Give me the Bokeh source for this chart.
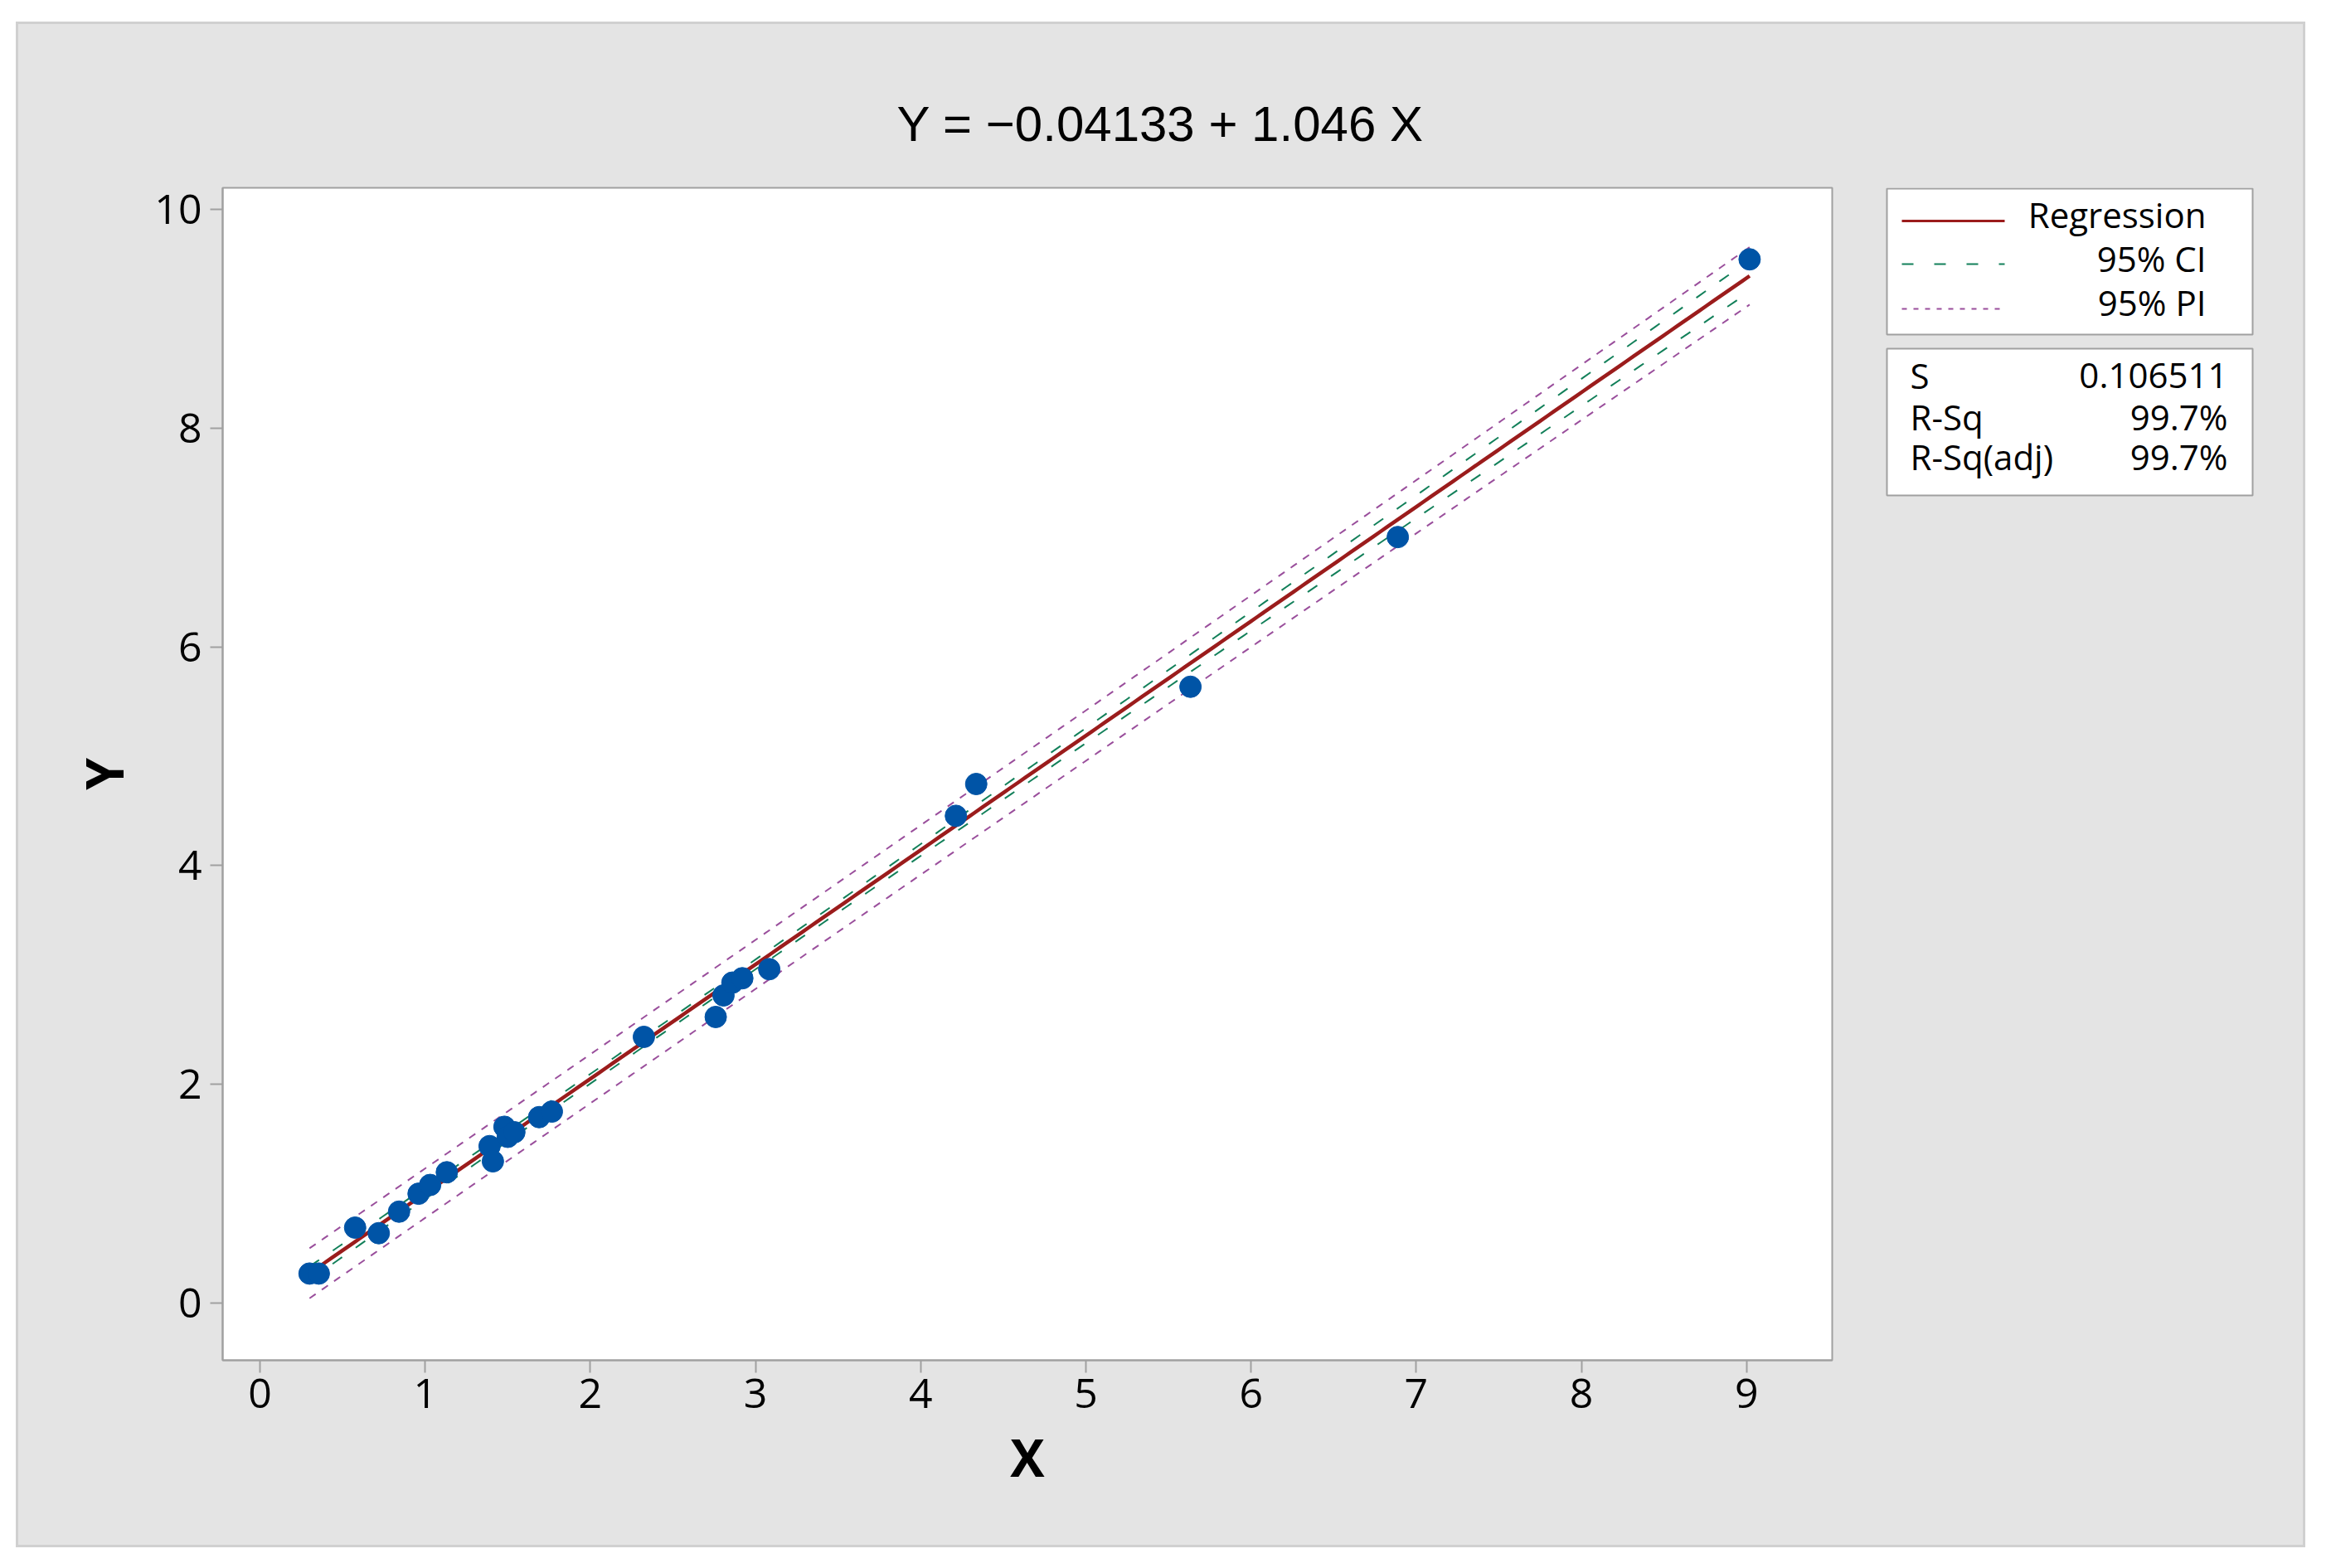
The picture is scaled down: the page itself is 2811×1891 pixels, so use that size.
import numpy as np
from bokeh.plotting import figure
from bokeh.models import Range1d, FixedTicker, Spacer
from bokeh.layouts import row, column
from bokeh.embed import file_html
from bokeh.resources import INLINE
from bokeh.core.properties import value

# ---------------- data ----------------
x_vals = [0.30, 0.356, 0.576, 0.719, 0.842, 0.96, 1.03, 1.131, 1.39, 1.41, 1.48, 1.50,
          1.54, 1.69, 1.767, 2.324, 2.759, 2.806, 2.86, 2.92, 3.083, 4.213, 4.336,
          5.633, 6.888, 9.018]
y_vals = [0.27, 0.27, 0.69, 0.639, 0.836, 1.00, 1.08, 1.196, 1.435, 1.296, 1.612, 1.52,
          1.562, 1.70, 1.751, 2.434, 2.616, 2.813, 2.93, 2.97, 3.053, 4.455, 4.746,
          5.635, 7.004, 9.543]
x_ticks = [0, 1, 2, 3, 4, 5, 6, 7, 8, 9]
y_ticks = [0, 2, 4, 6, 8, 10]
intercept = -0.04133
slope = 1.046
s_value = 0.106511
t_crit = 2.064
title_text = "Y = \u22120.04133 + 1.046 X"
legend_labels = ["Regression", "95% CI", "95% PI"]
stat_names = ["S", "R-Sq", "R-Sq(adj)"]
stat_values = ["0.106511", "99.7%", "99.7%"]

# ---------------- derived fit bands ----------------
xa = np.array(x_vals)
n = len(xa)
xbar = xa.mean()
sxx = ((xa - xbar) ** 2).sum()
xg = np.linspace(xa.min(), xa.max(), 200)
fit = intercept + slope * xg
ci_hw = t_crit * s_value * np.sqrt(1.0 / n + (xg - xbar) ** 2 / sxx)
pi_hw = t_crit * s_value * np.sqrt(1.0 + 1.0 / n + (xg - xbar) ** 2 / sxx)

PANEL = "#e4e4e4"
FRAME_LINE = "#a0a0a0"
RED = "#9b1c1c"
GREEN = "#13805a"
PURPLE = "#9a4f9c"
BLUE = "#0054a6"

FW, FH = 1941, 1414
MB_TOP, MB_BOTTOM = 197, 223

p = figure(frame_width=FW, frame_height=FH,
           x_range=Range1d(-0.226, 9.518), y_range=Range1d(-0.523, 10.197),
           output_backend="svg", toolbar_location=None,
           min_border_left=246, min_border_right=31,
           min_border_top=MB_TOP, min_border_bottom=MB_BOTTOM,
           background_fill_color="white", border_fill_color=PANEL)
p.outline_line_color = FRAME_LINE
p.outline_line_width = 2
p.grid.visible = False

p.title.text = title_text
p.title.align = "left"
p.title.text_font = "Liberation Sans"
p.title.text_font_size = "60px"
p.title.text_font_style = "normal"
p.title.text_color = "black"
p.title.offset = 813
p.title.standoff = 87

for ax in (p.xaxis[0], p.yaxis[0]):
    ax.axis_line_color = FRAME_LINE
    ax.axis_line_width = 2
    ax.major_tick_line_color = FRAME_LINE
    ax.major_tick_line_width = 2
    ax.major_tick_out = 15
    ax.major_tick_in = 0
    ax.minor_tick_line_color = None
    ax.major_label_text_font = "Open Sans"
    ax.major_label_text_font_size = "50px"
    ax.major_label_text_color = "black"
    ax.axis_label_text_font = "Open Sans"
    ax.axis_label_text_font_size = "62px"
    ax.axis_label_text_font_style = "bold"
    ax.axis_label_text_color = "black"

p.xaxis.ticker = FixedTicker(ticks=x_ticks)
p.yaxis.ticker = FixedTicker(ticks=y_ticks)
p.xaxis.axis_label = "X"
p.yaxis.axis_label = "Y"
p.xaxis.major_label_standoff = 7
p.yaxis.major_label_standoff = 10
p.xaxis.axis_label_standoff = 14
p.yaxis.axis_label_standoff = 16

p.line(xg, fit - pi_hw, line_color=PURPLE, line_width=2, line_dash="9 9")
p.line(xg, fit + pi_hw, line_color=PURPLE, line_width=2, line_dash="9 9")
p.line(xg, fit - ci_hw, line_color=GREEN, line_width=2, line_dash="14 20")
p.line(xg, fit + ci_hw, line_color=GREEN, line_width=2, line_dash="14 20")
p.line(xg, fit, line_color=RED, line_width=4.5)
p.scatter(x_vals, y_vals, size=26, fill_color=BLUE, line_color=BLUE)

# ---------------- legend panel (pixel coords from its frame top-left, y downward) ----------------
LW = 537
lf = figure(frame_width=LW, frame_height=FH,
            x_range=Range1d(0, LW), y_range=Range1d(FH, 0),
            output_backend="svg", toolbar_location=None,
            x_axis_location=None, y_axis_location=None,
            min_border_left=0, min_border_right=0,
            min_border_top=MB_TOP, min_border_bottom=MB_BOTTOM,
            background_fill_color=PANEL, border_fill_color=PANEL)
lf.outline_line_color = None
lf.grid.visible = False

lf.quad(left=[35, 35], right=[476, 476], top=[1, 194], bottom=[177, 371],
        fill_color="white", line_color=FRAME_LINE, line_width=2)
lf.line([53, 177], [40, 40], line_color=RED, line_width=3)
lf.line([53, 177], [92, 92], line_color=GREEN, line_width=2, line_dash="14 25")
lf.line([53, 177], [146, 146], line_color=PURPLE, line_width=2, line_dash="6 8")
lf.text(x=[420] * 3, y=[32, 85, 138], text=legend_labels,
        text_align="right", text_baseline="alphabetic",
        text_font=value("Open Sans"), text_font_size="42px", text_color="black")
lf.text(x=[63] * 3, y=[226, 276, 324], text=stat_names,
        text_align="left", text_baseline="alphabetic",
        text_font=value("Open Sans"), text_font_size="42px", text_color="black")
lf.text(x=[446] * 3, y=[226, 276, 324], text=stat_values,
        text_align="right", text_baseline="alphabetic",
        text_font=value("Open Sans"), text_font_size="42px", text_color="black")

panel = row(p, lf, styles={"border": "3px solid #d0d0d0", "background-color": PANEL})
layout = column(Spacer(height=26), row(Spacer(width=19), panel))

open("out.html", "w").write(file_html(layout, INLINE))
